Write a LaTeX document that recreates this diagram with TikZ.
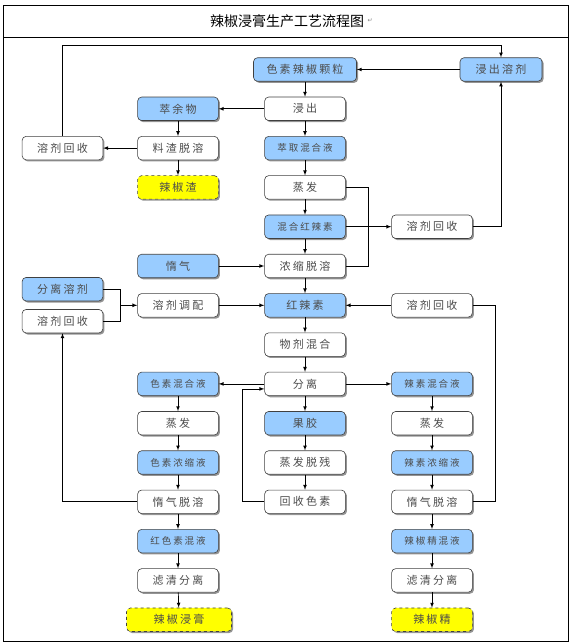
\documentclass[tikz,border=0pt]{standalone}
\usepackage{fontspec}
\newfontfamily\cjk[LetterSpace=20]{Noto Sans CJK SC}
\newfontfamily\cjktitle{Noto Sans CJK SC}
\newfontfamily\symfont{DejaVu Sans}
\usetikzlibrary{arrows,shadows,positioning}
\definecolor{boxblue}{RGB}{153,204,255}
\definecolor{boxyellow}{RGB}{255,255,0}
\tikzset{
  box/.style={draw=black!75, line width=0.6pt, rounded corners=4pt, fill=white,
    minimum width=80.7pt, minimum height=23.5pt, inner sep=0pt,
    font=\cjk\fontsize{11}{12}\selectfont, text=black!70,
    drop shadow={shadow xshift=1.6pt, shadow yshift=-1.6pt, fill=black!60, opacity=0.7}},
  bluebox/.style={box, fill=boxblue},
  smallbox/.style={bluebox, font=\cjk\fontsize{9.5}{10}\selectfont},
  endbox/.style={box, fill=boxyellow, dashed},
  arr/.style={-latex, line width=0.7pt},
  link/.style={line width=0.7pt}
}

\begin{document}
\begin{tikzpicture}[x=1pt, y=-1pt]
    \useasboundingbox (0,0) rectangle (575,644);
    \draw[line width=0.8pt] (3.3,5) rectangle (568,641.7);
    \draw[line width=0.8pt] (3.3,37.7) -- (568,37.7);
    \node[font=\cjktitle\fontsize{14}{16}\selectfont] at (287,21) (title) {辣椒浸膏生产工艺流程图};
    \node[right=0pt of title, font=\symfont\fontsize{6}{7}\selectfont, text=black!50, inner sep=0pt] (mark) {↵};

    \node[bluebox, minimum width=103pt] at (305,69.5) (pellet) {色素辣椒颗粒};
    \node[bluebox, minimum width=82pt] at (501,69.5) (solvent) {浸出溶剂};
    \node[box] at (305,108.8) (leach) {浸出};
    \node[bluebox] at (178,108.8) (raff) {萃余物};
    \node[box] at (62.5,148.1) (recA) {溶剂回收};
    \node[box] at (178,148.1) (desolv) {料渣脱溶};
    \node[smallbox] at (305,148.1) (extr) {萃取混合液};
    \node[endbox] at (178,187.4) (residue) {辣椒渣};
    \node[box] at (305,187.4) (evapC) {蒸发};
    \node[smallbox] at (305,226.7) (mixred) {混合红辣素};
    \node[box] at (432,226.7) (recD) {溶剂回收};
    \node[bluebox] at (178,266) (inert) {惰气};
    \node[box] at (305,266) (concdes) {浓缩脱溶};
    \node[bluebox] at (62.5,289.2) (sepsolv) {分离溶剂};
    \node[box] at (62.5,321.2) (recA2) {溶剂回收};
    \node[box] at (178,305.3) (blend) {溶剂调配};
    \node[bluebox] at (305,305.3) (capsanthin) {红辣素};
    \node[box] at (432,305.3) (recD2) {溶剂回收};
    \node[box] at (305,344.6) (mixing) {物剂混合};
    \node[smallbox] at (178,383.9) (pigmix) {色素混合液};
    \node[box] at (305,383.9) (split) {分离};
    \node[smallbox] at (432,383.9) (capmix) {辣素混合液};
    \node[box] at (178,423.2) (evapB) {蒸发};
    \node[bluebox] at (305,423.2) (pectin) {果胶};
    \node[box] at (432,423.2) (evapD) {蒸发};
    \node[smallbox] at (178,462.5) (pigconc) {色素浓缩液};
    \node[box] at (305,462.5) (resid) {蒸发脱残};
    \node[smallbox] at (432,462.5) (capconc) {辣素浓缩液};
    \node[box] at (178,501.8) (inertB) {惰气脱溶};
    \node[box] at (305,501.8) (recpig) {回收色素};
    \node[box] at (432,501.8) (inertD) {惰气脱溶};
    \node[smallbox] at (178,541.1) (redmix) {红色素混液};
    \node[smallbox] at (432,541.1) (oilmix) {辣椒精混液};
    \node[box] at (178,580.4) (filtB) {滤清分离};
    \node[box] at (432,580.4) (filtD) {滤清分离};
    \node[endbox, minimum width=105pt] at (179,619.7) (oleo) {辣椒浸膏};
    \node[endbox] at (432,619.7) (essence) {辣椒精};

    \coordinate (top) at (62.5,45.7);
    \coordinate (k1) at (368,187.4);
    \coordinate (j1) at (120.3,305.3);
    \coordinate (k2) at (495.8,501.8);
    \coordinate (k3) at (242.3,501.8);

    \draw[arr] (recA.north) -- (top) -| (solvent.north);
    \draw[arr] (solvent) -- (pellet);
    \draw[arr] (pellet) -- (leach);
    \draw[arr] (leach) -- (raff);
    \draw[arr] (raff) -- (desolv);
    \draw[arr] (desolv) -- (recA);
    \draw[arr] (desolv) -- (residue);
    \draw[arr] (leach) -- (extr);
    \draw[arr] (extr) -- (evapC);
    \draw[arr] (evapC) -- (mixred);
    \draw[arr] (mixred) -- (concdes);
    \draw[link] (evapC.east) -- (k1) |- (concdes.east);
    \draw[arr] (mixred) -- (recD);
    \draw[arr] (recD.east) -| (solvent.south);
    \draw[arr] (inert) -- (concdes);
    \draw[arr] (concdes) -- (capsanthin);
    \draw[link] (sepsolv.east) -| (j1);
    \draw[link] (recA2.east) -| (j1);
    \draw[arr] (j1) -- (blend);
    \draw[arr] (blend) -- (capsanthin);
    \draw[arr] (recD2) -- (capsanthin);
    \draw[link] (inertD.east) -- (k2) |- (recD2.east);
    \draw[arr] (capsanthin) -- (mixing);
    \draw[arr] (mixing) -- (split);
    \draw[arr] (split) -- (pigmix);
    \draw[arr] (split) -- (capmix);
    \draw[arr] (split) -- (pectin);
    \draw[arr] (pectin) -- (resid);
    \draw[arr] (resid) -- (recpig);
    \draw[arr] (recpig.west) -- (k3) |- ([yshift=-5pt]split.west);
    \draw[arr] (pigmix) -- (evapB);
    \draw[arr] (evapB) -- (pigconc);
    \draw[arr] (pigconc) -- (inertB);
    \draw[arr] (inertB) -- (redmix);
    \draw[arr] (redmix) -- (filtB);
    \draw[arr] (filtB) -- (oleo);
    \draw[arr] (inertB.west) -| (recA2.south);
    \draw[arr] (capmix) -- (evapD);
    \draw[arr] (evapD) -- (capconc);
    \draw[arr] (capconc) -- (inertD);
    \draw[arr] (inertD) -- (oilmix);
    \draw[arr] (oilmix) -- (filtD);
    \draw[arr] (filtD) -- (essence);
\end{tikzpicture}
\end{document}
